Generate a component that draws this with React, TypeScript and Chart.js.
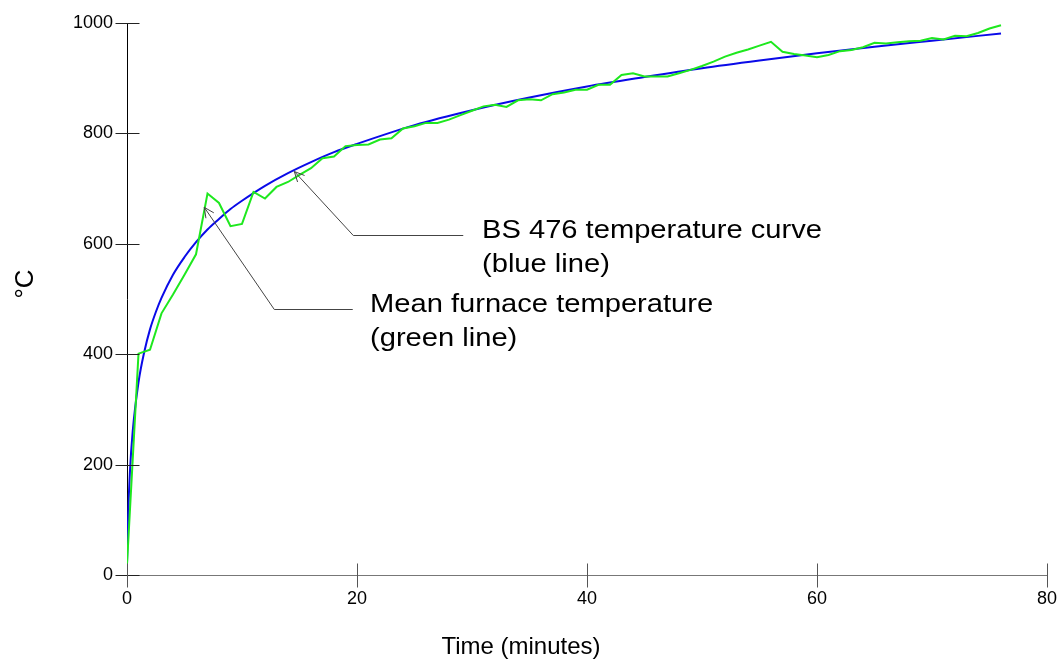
import React, { useEffect, useRef } from "react";
import { Chart, registerables } from "chart.js";

Chart.register(...registerables);

// Mean furnace temperature (green line)
const greenTimes = [
  0, 1, 2, 3, 4, 5, 6, 7, 8, 9, 10, 11, 12, 13, 14, 15, 16, 17, 18, 19,
  20, 21, 22, 23, 24, 25, 26, 27, 28, 29, 30, 31, 32, 33, 34, 35, 36, 37, 38, 39,
  40, 41, 42, 43, 44, 45, 46, 47, 48, 49, 50, 51, 52, 53, 54, 55, 56, 57, 58, 59,
  60, 61, 62, 63, 64, 65, 66, 67, 68, 69, 70, 71, 72, 73, 74, 75, 76,
];
const greenTemps = [
  20, 401, 408, 474, 508, 544, 581, 691, 674, 632, 636, 694, 682, 703, 712, 725, 737, 755, 758, 777,
  779, 780, 789, 791, 809, 813, 819, 819, 825, 833, 841, 849, 852, 848, 860, 862, 860, 871, 874, 879,
  879, 888, 888, 906, 909, 903, 903, 903, 909, 915, 922, 930, 939, 946, 952, 959, 966, 948, 944, 941,
  938, 942, 949, 951, 956, 964, 963, 965, 967, 968, 973, 970, 977, 976, 982, 990, 996,
];

// BS 476 temperature curve (blue line)
const blueTimes = [
  0, 0.1, 0.25, 0.5, 1, 1.5, 2, 2.5, 3, 4, 5, 6, 7, 8, 9, 10, 12, 14, 16, 18,
  20, 25, 30, 35, 40, 45, 50, 55, 60, 65, 70, 76,
];
const blueTemps = [
  20, 108, 185, 261, 349, 404, 445, 476, 502, 544, 576, 603, 626, 645, 663, 678, 705, 728, 748, 766,
  781, 815, 842, 865, 885, 902, 918, 932, 945, 957, 968, 981,
];

const xTicks = [0, 20, 40, 60, 80];
const yTicks = [0, 200, 400, 600, 800, 1000];

const xTitle = "Time (minutes)";
const yTitle = "°C";

const bsLabel = ["BS 476 temperature curve", "(blue line)"];
const meanLabel = ["Mean furnace temperature", "(green line)"];

const FONT = "'Liberation Sans', Arial, Helvetica, sans-serif";

type Pt = [number, number];
interface Annot {
  lines: string[];
  path: Pt[]; // data coords, first = arrow tip
  textAt: Pt; // data coords of first baseline start
}

const annots: Annot[] = [
  { lines: bsLabel, path: [[14.55, 731], [19.68, 616], [29.24, 616]], textAt: [30.87, 610.5] },
  { lines: meanLabel, path: [[6.72, 666], [12.81, 481], [19.63, 481]], textAt: [21.13, 477] },
];

const overlayPlugin = {
  id: "overlay",
  afterDraw(chart: any) {
    const ctx: CanvasRenderingContext2D = chart.ctx;
    const xs = chart.scales.x;
    const ys = chart.scales.y;
    const ca = chart.chartArea;
    ctx.save();

    // crossing tick marks
    ctx.lineWidth = 1;
    ctx.strokeStyle = "#222";
    yTicks.forEach((v) => {
      const py = Math.round(ys.getPixelForValue(v)) + 0.5;
      const px = Math.round(ca.left) + 0.5;
      ctx.beginPath();
      ctx.moveTo(px - 12, py);
      ctx.lineTo(px + 12, py);
      ctx.stroke();
    });
    ctx.strokeStyle = "#555";
    xTicks.forEach((v) => {
      const px = Math.round(xs.getPixelForValue(v)) + 0.5;
      const py = Math.round(ca.bottom) + 0.5;
      ctx.beginPath();
      ctx.moveTo(px, py - 12);
      ctx.lineTo(px, py + 12);
      ctx.stroke();
    });

    // annotations
    ctx.strokeStyle = "#444";
    ctx.fillStyle = "#000";
    annots.forEach((a) => {
      const pts = a.path.map(([x, y]) => [xs.getPixelForValue(x), ys.getPixelForValue(y)]);
      ctx.beginPath();
      ctx.moveTo(pts[0][0], pts[0][1]);
      for (let i = 1; i < pts.length; i++) ctx.lineTo(pts[i][0], Math.round(pts[i][1]) + 0.5);
      ctx.stroke();
      // open arrowhead at tip
      const dx = pts[1][0] - pts[0][0];
      const dy = pts[1][1] - pts[0][1];
      const ang = Math.atan2(dy, dx);
      const L = 11;
      const spread = 0.45;
      ctx.beginPath();
      ctx.moveTo(pts[0][0] + L * Math.cos(ang + spread), pts[0][1] + L * Math.sin(ang + spread));
      ctx.lineTo(pts[0][0], pts[0][1]);
      ctx.lineTo(pts[0][0] + L * Math.cos(ang - spread), pts[0][1] + L * Math.sin(ang - spread));
      ctx.stroke();

      const tx = xs.getPixelForValue(a.textAt[0]);
      const ty = ys.getPixelForValue(a.textAt[1]);
      ctx.font = `26px ${FONT}`;
      ctx.textAlign = "left";
      ctx.textBaseline = "alphabetic";
      a.lines.forEach((s, i) => {
        ctx.save();
        ctx.translate(tx, ty + i * 34);
        ctx.scale(1.12, 1);
        ctx.fillText(s, 0, 0);
        ctx.restore();
      });
    });

    // axis titles
    ctx.fillStyle = "#000";
    ctx.font = `24px ${FONT}`;
    ctx.textAlign = "center";
    ctx.textBaseline = "alphabetic";
    ctx.fillText(xTitle, 521, 654);

    ctx.save();
    ctx.translate(33, 284);
    ctx.rotate(-Math.PI / 2);
    ctx.font = `26px ${FONT}`;
    ctx.fillText(yTitle, 0, 0);
    ctx.restore();

    ctx.restore();
  },
};

export default function App() {
  const ref = useRef<HTMLCanvasElement | null>(null);
  useEffect(() => {
    if (!ref.current) return;
    const chart = new Chart(ref.current, {
      type: "line",
      data: {
        datasets: [
          {
            label: "Mean furnace temperature",
            data: greenTimes.map((t, i) => ({ x: t, y: greenTemps[i] })),
            borderColor: "#1ee81e",
            borderWidth: 2,
            pointRadius: 0,
            tension: 0,
            fill: false,
          },
          {
            label: "BS 476 temperature curve",
            data: blueTimes.map((t, i) => ({ x: t, y: blueTemps[i] })),
            borderColor: "#0a0ae8",
            borderWidth: 2,
            pointRadius: 0,
            cubicInterpolationMode: "monotone",
            fill: false,
          },
        ],
      },
      options: {
        responsive: false,
        animation: false,
        events: [],
        layout: { padding: { left: 0, right: 16, top: 23, bottom: 0 } },
        plugins: { legend: { display: false }, tooltip: { enabled: false }, title: { display: false } },
        scales: {
          x: {
            type: "linear",
            min: 0,
            max: 80,
            afterFit: (s: any) => {
              s.height = 87;
              s.paddingRight = 0;
              s.paddingLeft = 0;
            },
            afterBuildTicks: (s: any) => {
              s.ticks = xTicks.map((v) => ({ value: v }));
            },
            ticks: {
              stepSize: 20,
              padding: 13,
              color: "#000",
              font: { family: FONT, size: 18 },
              maxRotation: 0,
              callback: (v: any) => String(v),
            },
            grid: { display: false, drawTicks: false },
            border: { display: true, color: "#777", width: 1 },
          },
          y: {
            type: "linear",
            min: 0,
            max: 1000,
            afterFit: (s: any) => {
              s.width = 127;
              s.paddingTop = 0;
              s.paddingBottom = 0;
            },
            afterBuildTicks: (s: any) => {
              s.ticks = yTicks.map((v) => ({ value: v }));
            },
            ticks: {
              stepSize: 200,
              padding: 14,
              color: "#000",
              font: { family: FONT, size: 18 },
              callback: (v: any) => String(v),
            },
            grid: { display: false, drawTicks: false },
            border: { display: true, color: "#000", width: 1 },
          },
        },
      },
      plugins: [overlayPlugin],
    } as any);
    return () => chart.destroy();
  }, []);

  return (
    <div style={{ position: "fixed", left: 0, top: 0, width: 1063, height: 662, background: "#fff" }}>
      <canvas ref={ref} width={1063} height={662} style={{ display: "block" }} />
    </div>
  );
}
